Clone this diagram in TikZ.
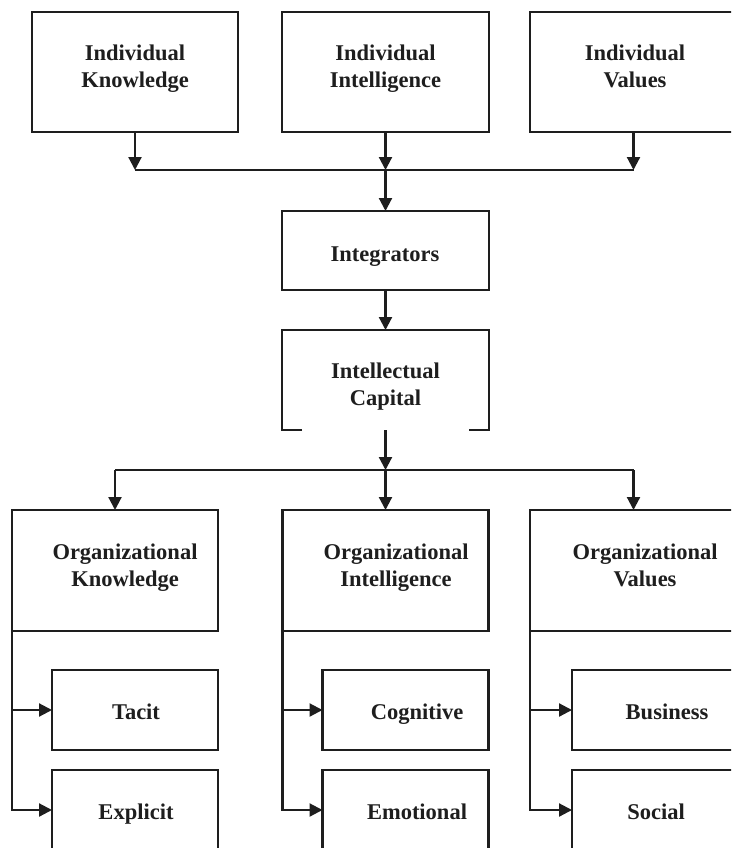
\documentclass[tikz,border=0pt]{standalone}
\usepackage{fontspec}
\setmainfont{Liberation Serif}
\usetikzlibrary{arrows.meta}
\definecolor{ink}{HTML}{1E1E1E}
\begin{document}
\begin{tikzpicture}[x=1pt,y=-1pt,
  box/.style={draw=ink, line width=2.2pt, inner sep=0pt, outer sep=0pt},
  openbox/.style={inner sep=0pt, outer sep=0pt},
  lbl/.style={text=ink, font=\fontsize{22.5}{27}\selectfont\bfseries, align=center, inner sep=0pt},
  arr/.style={draw=ink, line width=2.2pt, -{Triangle[length=13pt,width=13pt]}},
  ln/.style={draw=ink, line width=2.2pt}]
\useasboundingbox (0,0) rectangle (731,848);
\clip (0,0) rectangle (731,848);
\fill[white] (0,0) rectangle (731,848);
% top row
\node[box, minimum width=206pt, minimum height=120pt] (IK) at (135,72) {};
\node[box, minimum width=207pt, minimum height=120pt] (II) at (385.5,72) {};
\node[box, minimum width=207pt, minimum height=120pt] (IV) at (633.5,72) {};
\node[lbl] (tIK) at (135,68.9) {Individual\\Knowledge};
\node[lbl] (tII) at (385.5,68.9) {Individual\\Intelligence};
\node[lbl] (tIV) at (635,66.5) {Individual\\Values};
% middle
\node[box, minimum width=207pt, minimum height=79pt] (Int) at (385.5,250.5) {};
\node[lbl, anchor=base] (tInt) at (385,261) {Integrators};
\node[openbox, minimum width=207pt, minimum height=100pt] (IC) at (385.5,380) {};
\draw[ln] ([xshift=20pt]IC.south west) -- (IC.south west) -- (IC.north west) -- (IC.north east) -- (IC.south east) -- ([xshift=-20pt]IC.south east);
\node[lbl] (tIC) at (385.5,386.9) {Intellectual\\Capital};
% organizational row
\node[box, minimum width=206pt, minimum height=121pt] (OK) at (115,570.5) {};
\node[box, minimum width=206pt, minimum height=121pt] (OI) at (385.5,570.5) {};
\node[box, minimum width=207pt, minimum height=121pt] (OV) at (633.5,570.5) {};
\node[lbl] (tOK) at (125,567.4) {Organizational\\Knowledge};
\node[lbl] (tOI) at (396,567.4) {Organizational\\Intelligence};
\node[lbl] (tOV) at (645,565) {Organizational\\Values};
% sub boxes
\node[box, minimum width=166pt, minimum height=80pt] (Ta) at (135,710) {};
\node[box, minimum width=166pt, minimum height=80pt] (Ex) at (135,810) {};
\node[box, minimum width=166pt, minimum height=80pt] (Co) at (405.5,710) {};
\node[box, minimum width=166pt, minimum height=80pt] (Em) at (405.5,810) {};
\node[box, minimum width=166pt, minimum height=80pt] (Bu) at (655,710) {};
\node[box, minimum width=166pt, minimum height=80pt] (So) at (655,810) {};
\node[lbl, anchor=base] (tTa) at (136,719) {Tacit};
\node[lbl, anchor=base] (tEx) at (136,819) {Explicit};
\node[lbl, anchor=base] (tCo) at (417,719) {Cognitive};
\node[lbl, anchor=base] (tEm) at (417,819) {Emotional};
\node[lbl, anchor=base] (tBu) at (667,719) {Business};
\node[lbl, anchor=base] (tSo) at (656,819) {Social};
% connectors top
\coordinate (j1) at (385.5,170);
\draw[arr] (IK.south) -- (IK.south |- j1);
\draw[arr] (II.south) -- (j1);
\draw[arr] (IV.south) -- (IV.south |- j1);
\draw[ln] (IK.south |- j1) -- (IV.south |- j1);
\draw[arr] (j1) -- (Int.north);
\draw[arr] (Int.south) -- (IC.north);
% connectors middle
\coordinate (j2) at (385.5,470);
\draw[arr] (IC.south) -- (j2);
\draw[ln] (OK.north |- j2) -- (OV.north |- j2);
\draw[arr] (OK.north |- j2) -- (OK.north);
\draw[arr] (j2) -- (OI.north);
\draw[arr] (OV.north |- j2) -- (OV.north);
% branches
\draw[arr] (OK.south west) |- (Ta.west);
\draw[arr] (OK.south west) |- (Ex.west);
\draw[arr] (OI.south west) |- (Co.west);
\draw[arr] (OI.south west) |- (Em.west);
\draw[arr] (OV.south west) |- (Bu.west);
\draw[arr] (OV.south west) |- (So.west);
\end{tikzpicture}
\end{document}
